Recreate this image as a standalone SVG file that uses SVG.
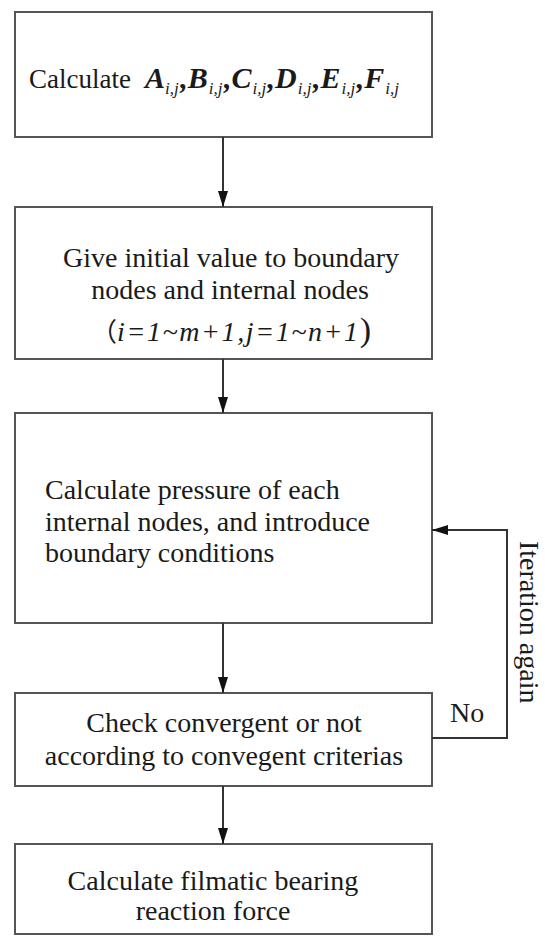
<svg xmlns="http://www.w3.org/2000/svg" width="545" height="936" viewBox="0 0 545 936">
  <style>
    .box { fill: #ffffff; stroke: #555555; stroke-width: 2; }
    .txt { font-family: 'Liberation Serif', 'Times New Roman', 'DejaVu Serif', serif; font-size: 28px; fill: #1a1a1a; }
    .mid { text-anchor: middle; }
    .math { font-size: 30px; font-weight: bold; font-style: italic; }
    .sub { font-size: 17px; font-style: italic; font-weight: normal; }
    .conn { fill: none; stroke: #333333; stroke-width: 2; }
  </style>
  <defs>
    <marker id="arrow" markerUnits="userSpaceOnUse" markerWidth="16" markerHeight="12" refX="16" refY="6" orient="auto">
      <path d="M0,1 L16,6 L0,11 z" fill="#111111"/>
    </marker>
  </defs>
  <rect width="545" height="936" fill="#ffffff"/>

  <g id="calc-coefficients">
    <rect class="box" x="15" y="12" width="417" height="125"/>
    <text class="txt" x="29" y="88"><tspan font-size="27">Calculate</tspan><tspan class="math" dx="14">A</tspan><tspan class="sub" dy="6">i,j</tspan><tspan class="math" dy="-6" dx="1.5">,B</tspan><tspan class="sub" dy="6" dx="1">i,j</tspan><tspan class="math" dy="-6" dx="1.5">,C</tspan><tspan class="sub" dy="6" dx="1">i,j</tspan><tspan class="math" dy="-6" dx="1.5">,D</tspan><tspan class="sub" dy="6" dx="1">i,j</tspan><tspan class="math" dy="-6" dx="1.5">,E</tspan><tspan class="sub" dy="6" dx="1">i,j</tspan><tspan class="math" dy="-6" dx="1.5">,F</tspan><tspan class="sub" dy="6" dx="1">i,j</tspan></text>
  </g>

  <g id="initial-values">
    <rect class="box" x="15" y="207" width="417" height="152"/>
    <text class="txt mid" x="231" y="267">Give initial value to boundary</text>
    <text class="txt mid" x="230" y="299">nodes and internal nodes</text>
    <text class="txt mid" x="231" y="341"><tspan font-family="'Noto Sans CJK SC', sans-serif" font-size="26">（</tspan><tspan font-style="italic" letter-spacing="1.6">i=1~m+1,j=1~n+1</tspan><tspan font-size="34">)</tspan></text>
  </g>

  <g id="calc-pressure">
    <rect class="box" x="15" y="413" width="417" height="210"/>
    <text class="txt" x="45" y="499">Calculate pressure of each</text>
    <text class="txt" x="45" y="531">internal nodes, and introduce</text>
    <text class="txt" x="45" y="562">boundary conditions</text>
  </g>

  <g id="check-convergence">
    <rect class="box" x="15" y="693" width="417" height="93"/>
    <text class="txt mid" x="224" y="732">Check convergent or not</text>
    <text class="txt mid" x="224" y="765">according to convegent criterias</text>
  </g>

  <g id="reaction-force">
    <rect class="box" x="15" y="844" width="417" height="90"/>
    <text class="txt mid" x="213" y="890">Calculate filmatic bearing</text>
    <text class="txt mid" x="213" y="920">reaction force</text>
  </g>

  <g id="connectors">
    <line class="conn" x1="223" y1="137" x2="223" y2="207" marker-end="url(#arrow)"/>
    <line class="conn" x1="223" y1="359" x2="223" y2="413" marker-end="url(#arrow)"/>
    <line class="conn" x1="223" y1="623" x2="223" y2="693" marker-end="url(#arrow)"/>
    <line class="conn" x1="223" y1="786" x2="223" y2="844" marker-end="url(#arrow)"/>
    <polyline class="conn" points="432,738 507,738 507,530 432,530" marker-end="url(#arrow)"/>
    <text class="txt" x="450" y="722" font-size="26">No</text>
    <text class="txt" transform="translate(520,541) rotate(90)" font-size="27">Iteration again</text>
  </g>
</svg>
